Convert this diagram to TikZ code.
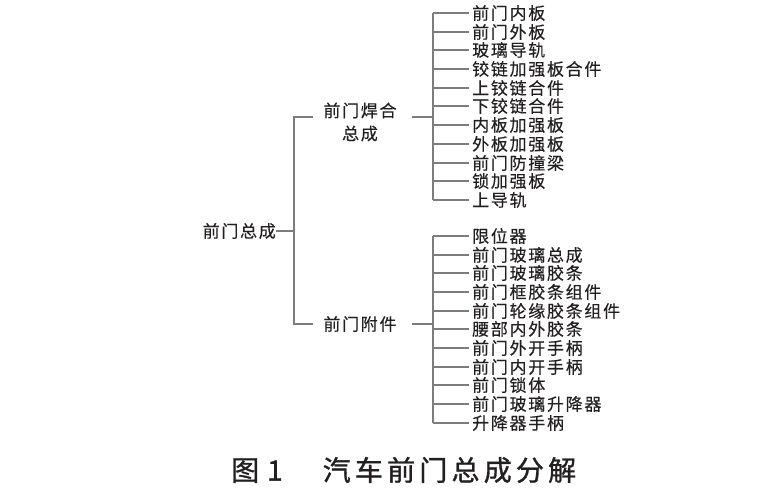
\documentclass[tikz,border=0pt]{standalone}
\usepackage{fontspec}
\usepackage{tikz}
\newfontfamily\cjk[LetterSpace=10,FakeBold=0.3]{Noto Sans CJK SC}
\newfontfamily\cjkcap[LetterSpace=15,FakeBold=1.1]{Noto Sans CJK SC}
\definecolor{linegray}{RGB}{125,125,125}
\definecolor{txtgray}{RGB}{35,31,32}
\tikzset{
  branch/.style={draw=linegray, line width=1.8pt},
  partname/.style={
    font=\cjk\fontsize{17}{23}\selectfont,
    text=txtgray,
    inner sep=0pt},
  leaf/.style={partname, anchor=west, inner xsep=3pt},
  figcaption/.style={
    font=\cjkcap\fontsize{28}{30}\selectfont,
    text=txtgray,
    inner sep=0pt},
}

\begin{document}
\begin{tikzpicture}[x=1pt,y=-1pt]
			\useasboundingbox (0,0) rectangle (758,498);
			\node[partname, anchor=east] (qmzc) at (276,231) {前门总成};
			\node[partname, align=center] (hhzc) at (360,122) {前门焊合\\总成};
			\node[partname] (qmfj) at (360,324) {前门附件};
			\coordinate (spine) at (294,231);
			\coordinate (hhL) at (313,117);
			\coordinate (fjL) at (313,324);
			\coordinate (hhR) at (412,117);
			\coordinate (fjR) at (412,324);
			\coordinate (hhB) at (433,117);
			\coordinate (fjB) at (433,324);
			\draw[branch] (qmzc.east) -- (spine);
			\draw[branch] (hhL) -| (spine) |- (fjL);
			\draw[branch] (hhR) -- (hhB);
			\draw[branch] (fjR) -- (fjB);
			% welded parts
			\foreach \i/\t in {0/前门内板,1/前门外板,2/玻璃导轨,3/铰链加强板合件,4/上铰链合件,5/下铰链合件,6/内板加强板,7/外板加强板,8/前门防撞梁,9/锁加强板,10/上导轨}{
				\node[leaf] (hh\i) at (469,{round(13+18.7*\i)}) {\t};
				\draw[branch] (hh\i.west -| hhB) -- (hh\i.west);
			}
			\draw[branch] (hh0.west -| hhB) -- (hh10.west -| hhB);
			% attachments
			\foreach \i/\t in {0/限位器,1/前门玻璃总成,2/前门玻璃胶条,3/前门框胶条组件,4/前门轮缘胶条组件,5/腰部内外胶条,6/前门外开手柄,7/前门内开手柄,8/前门锁体,9/前门玻璃升降器,10/升降器手柄}{
				\node[leaf] (fj\i) at (469,{round(236+18.67*\i)}) {\t};
				\draw[branch] (fj\i.west -| fjB) -- (fj\i.west);
			}
			\draw[branch] (fj0.west -| fjB) -- (fj10.west -| fjB);
			\node[figcaption, anchor=west] (fig) at (231,470) {图\hspace{8pt}1\hspace{40pt}汽车前门总成分解};
		\end{tikzpicture}
\end{document}
